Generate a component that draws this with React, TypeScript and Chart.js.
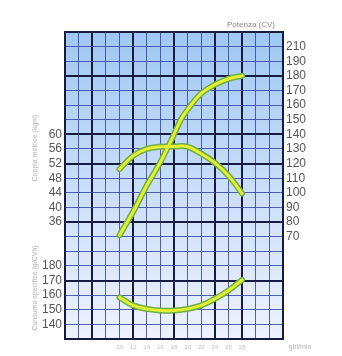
import React, { useEffect, useRef } from "react";
import { Chart, registerables } from "chart.js";

Chart.register(...registerables);

// x: engine speed (hundreds of rpm)
const rpmLabels = [10, 12, 14, 16, 18, 20, 22, 24, 26, 28];

// Torque (kgm)
const torqueRpm = [10, 12, 14, 16, 18, 20, 22, 24, 26, 28];
const torqueValues = [50.5, 54.1, 56.0, 56.6, 56.7, 56.6, 54.7, 52.2, 48.7, 43.8];

// Power (CV)
const powerRpm = [10, 12, 14, 16, 18, 19, 20, 22, 24, 26, 28];
const powerValues = [71, 87, 105, 121, 140, 150, 157, 168, 174, 178, 180];

// Specific consumption (g/CVh)
const consRpm = [10, 12, 14, 16, 18, 20, 22, 24, 26, 28];
const consValues = [158.5, 153, 150.6, 149.5, 149.5, 150.6, 153, 157.5, 163.2, 170.4];

// Tick labels on the grid rows (row index from bottom)
const leftRowLabels: Record<number, string> = {
  1: "140", 2: "150", 3: "160", 4: "170", 5: "180",
  8: "36", 9: "40", 10: "44", 11: "48", 12: "52", 13: "56", 14: "60",
};
const rightRowLabels: Record<number, string> = {
  7: "70", 8: "80", 9: "90", 10: "100", 11: "110", 12: "120", 13: "130",
  14: "140", 15: "150", 16: "160", 17: "170", 18: "180", 19: "190", 20: "210",
};

const thickCols = [0, 2, 5, 8, 11, 13, 16];
const thickRows = [0, 4, 8, 12, 14, 18, 21];

const FONT = "'Liberation Sans', Arial, sans-serif";
const THIN = "rgba(55,70,160,0.85)";
const THICK = "#161b44";

export default function App() {
  const ref = useRef<HTMLCanvasElement | null>(null);

  useEffect(() => {
    document.body.style.margin = "0";
    const canvas = ref.current!;
    const mk = (xs: number[], ys: number[]) => xs.map((x, i) => ({ x, y: ys[i] }));

    const bgPlugin = {
      id: "bg",
      beforeDraw(chart: any) {
        const { ctx, chartArea: a } = chart;
        const g = ctx.createLinearGradient(0, a.top, 0, a.bottom);
        g.addColorStop(0, "#9fc8f3");
        g.addColorStop(0.5, "#c9def8");
        g.addColorStop(1, "#eef2fc");
        ctx.save();
        ctx.fillStyle = g;
        ctx.fillRect(a.left, a.top, a.right - a.left, a.bottom - a.top);
        ctx.restore();
      },
      afterDraw(chart: any) {
        const { ctx } = chart;
        ctx.save();
        ctx.fillStyle = "#8a8a8a";
        ctx.font = "8px " + FONT;
        ctx.textAlign = "center";
        ctx.textBaseline = "middle";
        ctx.fillText("Potenza (CV)", 251, 25);
        ctx.font = "7px " + FONT;
        ctx.fillStyle = "#b0b0b0";
        ctx.fillText("giri/min", 300, 347);
        ctx.translate(35, 148);
        ctx.rotate(-Math.PI / 2);
        ctx.fillText("Coppia motrice (kgm)", 0, 0);
        ctx.restore();
        ctx.save();
        ctx.fillStyle = "#b0b0b0";
        ctx.font = "7px " + FONT;
        ctx.textAlign = "center";
        ctx.textBaseline = "middle";
        ctx.translate(35, 288);
        ctx.rotate(-Math.PI / 2);
        ctx.fillText("Consumo specifico (g/CVh)", 0, 0);
        ctx.restore();
      },
    };

    const curve = (data: any, axis: string, w: number, color: string, order: number) => ({
      data,
      yAxisID: axis,
      borderColor: color,
      borderWidth: w,
      pointRadius: 0,
      tension: 0.4,
      fill: false,
      borderCapStyle: "round",
      order,
    });

    const chart = new Chart(canvas, {
      type: "line",
      data: {
        datasets: [
          curve(mk(torqueRpm, torqueValues), "yTorque", 3, "#e2f230", 1),
          curve(mk(torqueRpm, torqueValues), "yTorque", 6, "#72ae45", 2),
          curve(mk(powerRpm, powerValues), "yPower", 3, "#e2f230", 1),
          curve(mk(powerRpm, powerValues), "yPower", 6, "#72ae45", 2),
          curve(mk(consRpm, consValues), "yCons", 3, "#e2f230", 1),
          curve(mk(consRpm, consValues), "yCons", 6, "#72ae45", 2),
        ] as any,
      },
      plugins: [bgPlugin],
      options: {
        animation: false,
        responsive: false,
        layout: { padding: { top: 32, left: 0, right: 0, bottom: 0 } },
        plugins: { legend: { display: false }, tooltip: { enabled: false }, title: { display: false } },
        scales: {
          x: {
            type: "linear",
            min: 2,
            max: 34,
            afterBuildTicks: (s: any) => {
              const t = [];
              for (let v = 2; v <= 34; v += 2) t.push({ value: v });
              s.ticks = t;
            },
            afterFit: (s: any) => { s.height = 17; },
            grid: {
              drawTicks: false,
              lineWidth: (c: any) => (thickCols.includes((c.tick?.value - 2) / 2) ? 2 : 1),
              color: (c: any) => (thickCols.includes((c.tick?.value - 2) / 2) ? THICK : THIN),
            },
            border: { display: true, color: THICK, width: 2 },
            ticks: {
              autoSkip: false,
              maxRotation: 0,
              padding: 5,
              color: "#c0c0c0",
              font: { size: 6, family: FONT },
              callback: (v: any) => (rpmLabels.includes(Number(v)) ? String(v) : ""),
            },
          },
          yGrid: {
            type: "linear",
            position: "left",
            min: 0,
            max: 21,
            afterBuildTicks: (s: any) => {
              const t = [];
              for (let v = 0; v <= 21; v++) t.push({ value: v });
              s.ticks = t;
            },
            afterFit: (s: any) => { s.width = 65; },
            grid: {
              drawTicks: false,
              lineWidth: (c: any) => (thickRows.includes(c.tick?.value) ? 2 : 1),
              color: (c: any) => (thickRows.includes(c.tick?.value) ? THICK : THIN),
            },
            border: { display: true, color: THICK, width: 2 },
            ticks: {
              autoSkip: false,
              padding: 3,
              color: "#555555",
              font: { size: 12, family: FONT },
              callback: (v: any) => leftRowLabels[Number(v)] ?? "",
            },
          },
          yRight: {
            type: "linear",
            position: "right",
            min: 0,
            max: 21,
            afterBuildTicks: (s: any) => {
              const t = [];
              for (let v = 0; v <= 21; v++) t.push({ value: v });
              s.ticks = t;
            },
            afterFit: (s: any) => { s.width = 59; },
            grid: { drawOnChartArea: false, drawTicks: false },
            border: { display: true, color: THICK, width: 2 },
            ticks: {
              autoSkip: false,
              padding: 3,
              color: "#555555",
              font: { size: 12, family: FONT },
              callback: (v: any) => rightRowLabels[Number(v)] ?? "",
            },
          },
          yTorque: { type: "linear", display: false, min: 4, max: 88 },
          yPower: { type: "linear", display: false, min: 0, max: 210 },
          yCons: { type: "linear", display: false, min: 130, max: 340 },
        },
      } as any,
    });
    return () => chart.destroy();
  }, []);

  return (
    <div style={{ width: 342, height: 356 }}>
      <canvas ref={ref} width={342} height={356} />
    </div>
  );
}
